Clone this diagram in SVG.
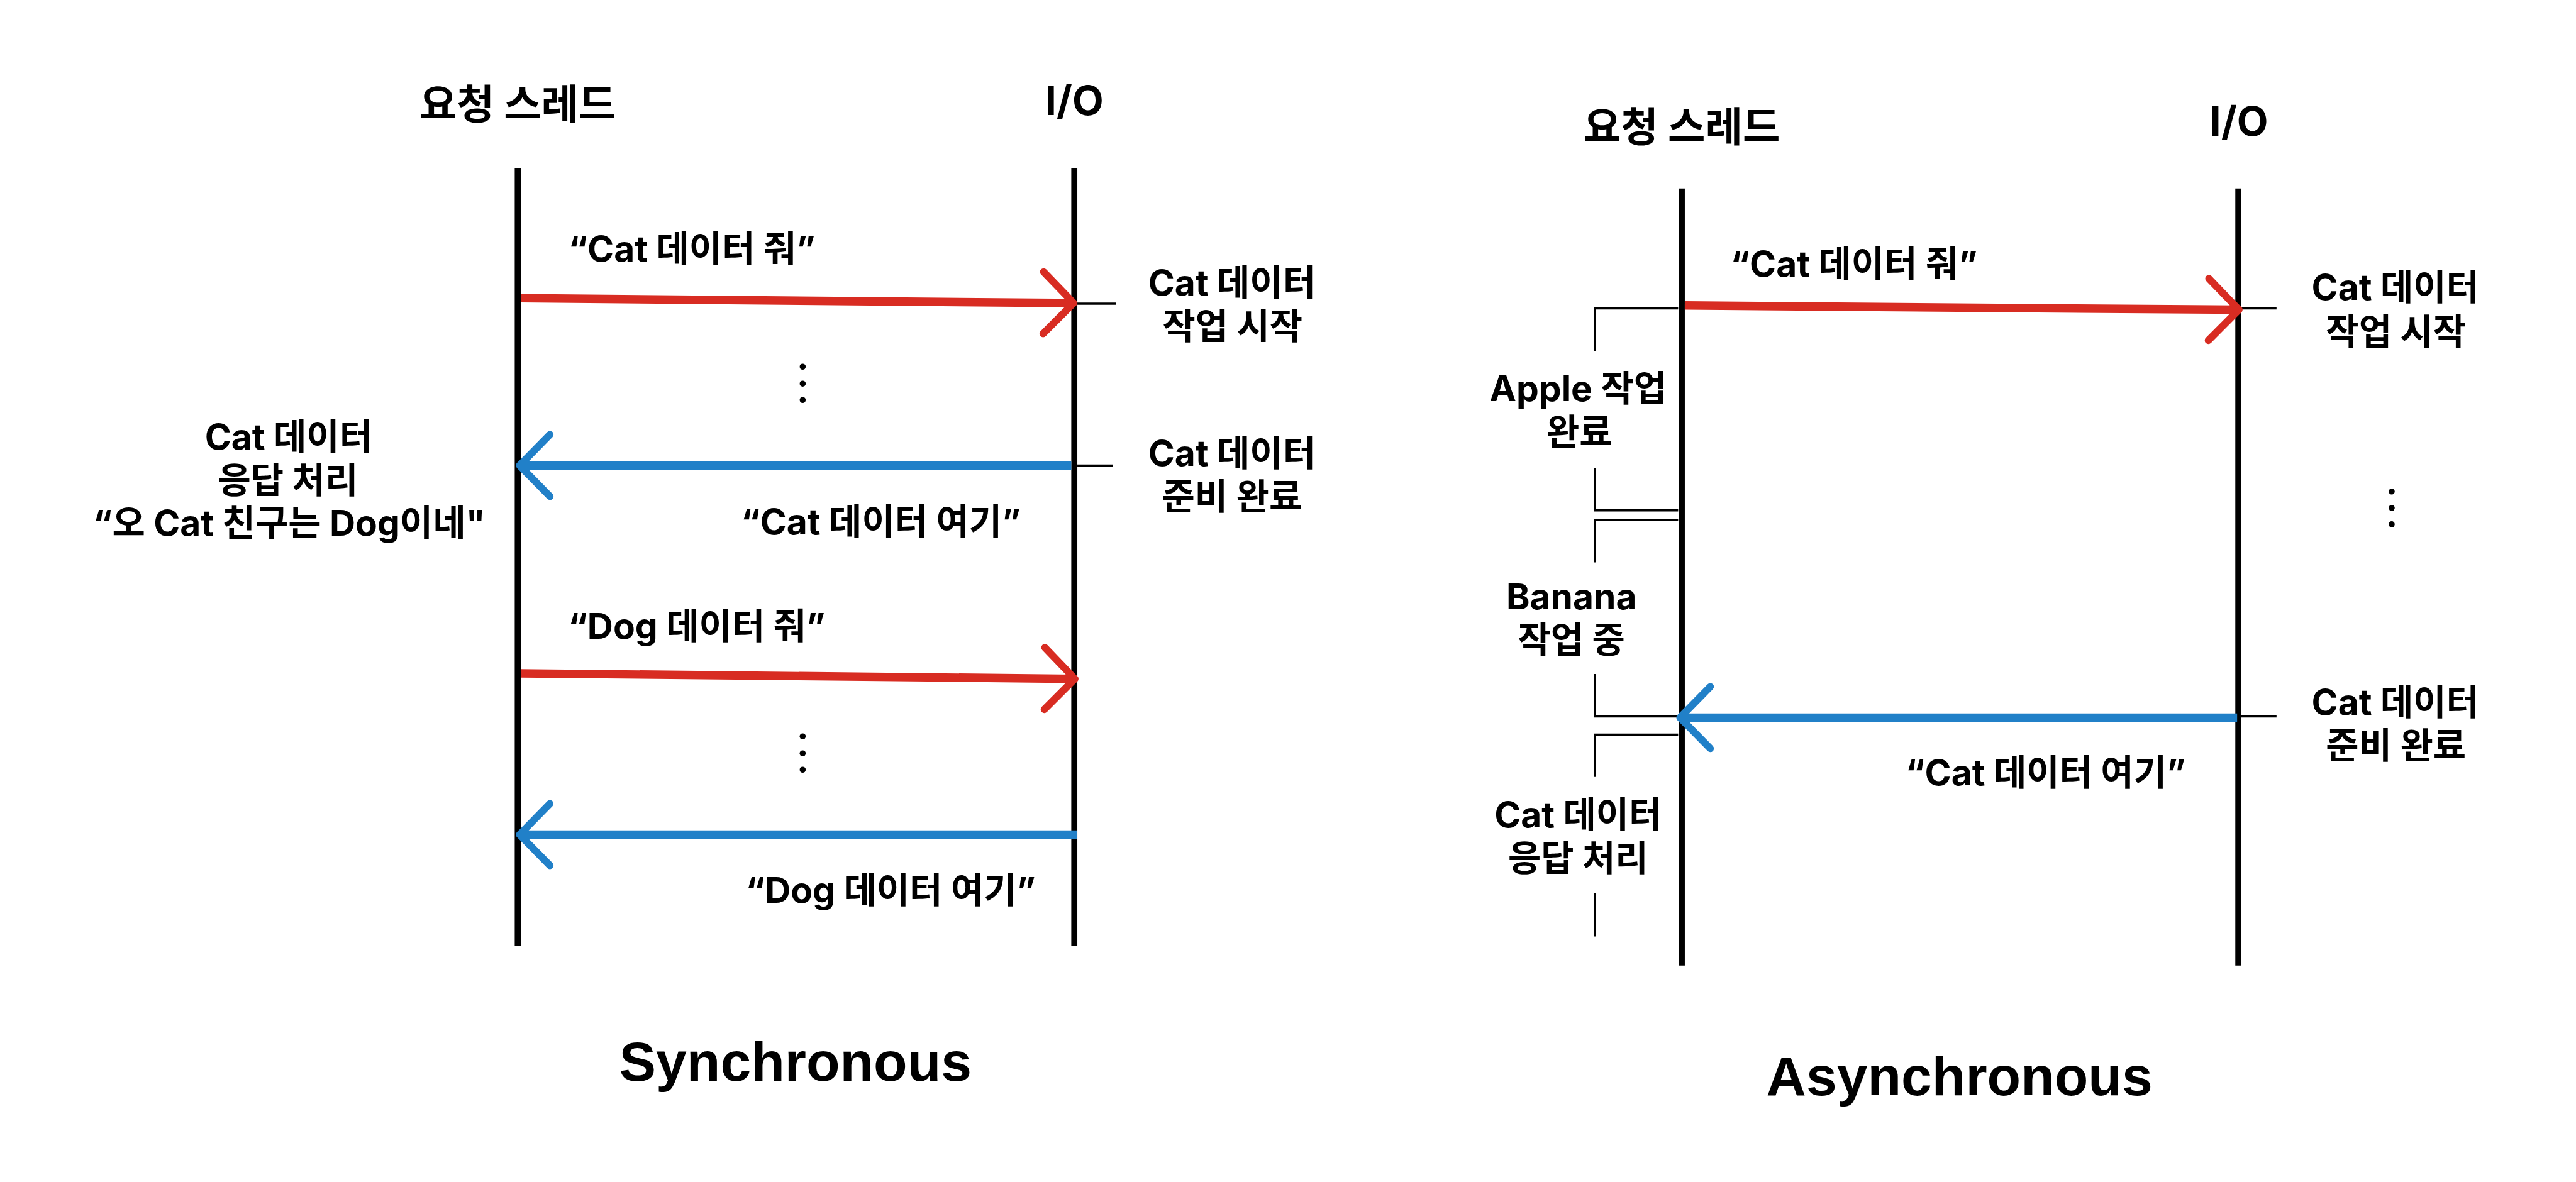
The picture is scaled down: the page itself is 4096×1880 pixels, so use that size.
<svg xmlns="http://www.w3.org/2000/svg" width="4096" height="1880" viewBox="0 0 4096 1880">
<defs>
<style>
.t{font-family:Inter,"Noto Sans CJK KR",sans-serif;font-weight:700;fill:#000;text-anchor:middle}
.lbl{font-size:59px}
.ttl{font-size:67px}
.big{font-family:"Liberation Sans",Arial,sans-serif;font-weight:700;font-size:91px;fill:#000;text-anchor:middle}
.life{stroke:#000;stroke-width:10;fill:none}
.tick{stroke:#000;stroke-width:3.5;fill:none}
.br{stroke:#000;stroke-width:3.5;fill:none}
.red{stroke:#D82C22;stroke-width:14;fill:none}
.blue{stroke:#2180C8;stroke-width:14;fill:none}
.dot{fill:#000}
</style>
<marker id="hr" markerUnits="userSpaceOnUse" viewBox="-60 -60 70 120" refX="0" refY="0" markerWidth="70" markerHeight="120" orient="auto" overflow="visible">
<path d="M-50,-51 L0,0 L-50,51" fill="none" stroke="#D82C22" stroke-width="12" stroke-linecap="round" stroke-linejoin="round"/>
</marker>
<marker id="hb" markerUnits="userSpaceOnUse" viewBox="-60 -60 70 120" refX="0" refY="0" markerWidth="70" markerHeight="120" orient="auto" overflow="visible">
<path d="M-50,-51 L0,0 L-50,51" fill="none" stroke="#2180C8" stroke-width="12" stroke-linecap="round" stroke-linejoin="round"/>
</marker>
</defs>
<rect width="4096" height="1880" fill="#fff"/>
<g transform="scale(0.964)">
<!-- Synchronous -->
<g id="sync-thread">
<text class="t ttl" x="854" y="196">요청 스레드</text>
<line class="life" x1="854" y1="278" x2="854" y2="1561"/>
</g>
<g id="sync-io">
<text class="t ttl" x="1772" y="190">I/O</text>
<line class="life" x1="1772" y1="278" x2="1772" y2="1561"/>
</g>
<g id="sync-io-start">
<line class="tick" x1="1777" y1="501" x2="1841" y2="501"/>
<text class="t lbl" x="2032" y="488">Cat 데이터</text>
<text class="t lbl" x="2033" y="559">작업 시작</text>
</g>
<g id="sync-io-ready">
<line class="tick" x1="1777" y1="768" x2="1836" y2="768"/>
<text class="t lbl" x="2032" y="769">Cat 데이터</text>
<text class="t lbl" x="2032" y="840">준비 완료</text>
</g>
<g id="sync-handle">
<text class="t lbl" x="476" y="742">Cat 데이터</text>
<text class="t lbl" x="475" y="813">응답 처리</text>
<text class="t lbl" x="477" y="884">“오 Cat 친구는 Dog이네"</text>
</g>
<g id="sync-dots1">
<circle class="dot" cx="1324" cy="605" r="5"/><circle class="dot" cx="1324" cy="633" r="5"/><circle class="dot" cx="1324" cy="660" r="5"/>
</g>
<g id="sync-dots2">
<circle class="dot" cx="1324" cy="1215" r="5"/><circle class="dot" cx="1324" cy="1243" r="5"/><circle class="dot" cx="1324" cy="1270" r="5"/>
</g>
<text class="big" x="1312" y="1783">Synchronous</text>

<!-- Asynchronous -->
<g id="async-thread">
<text class="t ttl" x="2774" y="233">요청 스레드</text>
<line class="life" x1="2774" y1="311" x2="2774" y2="1593"/>
</g>
<g id="async-io">
<text class="t ttl" x="3693" y="224">I/O</text>
<line class="life" x1="3692" y1="311" x2="3692" y2="1593"/>
</g>
<g id="async-io-start">
<line class="tick" x1="3697" y1="509" x2="3755" y2="509"/>
<text class="t lbl" x="3951" y="495">Cat 데이터</text>
<text class="t lbl" x="3952" y="568">작업 시작</text>
</g>
<g id="async-dots">
<circle class="dot" cx="3945" cy="811" r="5"/><circle class="dot" cx="3945" cy="838" r="5"/><circle class="dot" cx="3945" cy="865" r="5"/>
</g>
<g id="async-io-ready">
<line class="tick" x1="3697" y1="1182" x2="3755" y2="1182"/>
<text class="t lbl" x="3951" y="1179">Cat 데이터</text>
<text class="t lbl" x="3952" y="1251">준비 완료</text>
</g>
<g id="async-apple">
<path class="br" d="M2768,509 H2631 V580 M2631,772 V842 H2768"/>
<text class="t lbl" x="2603" y="662">Apple 작업</text>
<text class="t lbl" x="2605" y="733">완료</text>
</g>
<g id="async-banana">
<path class="br" d="M2768,858 H2631 V928 M2631,1112 V1182 H2768"/>
<text class="t lbl" x="2592" y="1005">Banana</text>
<text class="t lbl" x="2592" y="1077">작업 중</text>
</g>
<g id="async-handle">
<path class="br" d="M2768,1212 H2631 V1282 M2631,1474 V1545"/>
<text class="t lbl" x="2603" y="1365">Cat 데이터</text>
<text class="t lbl" x="2603" y="1437">응답 처리</text>
</g>
<text class="big" x="3232" y="1807">Asynchronous</text>

<!-- connectors -->
<g id="connectors">
<line class="red" x1="859" y1="492" x2="1771" y2="500" marker-end="url(#hr)"/>
<text class="t lbl" x="1141" y="432">“Cat 데이터 줘”</text>
<line class="blue" x1="1767" y1="768" x2="857" y2="768" marker-end="url(#hb)"/>
<text class="t lbl" x="1453" y="882">“Cat 데이터 여기”</text>
<line class="red" x1="859" y1="1111" x2="1773" y2="1120" marker-end="url(#hr)"/>
<text class="t lbl" x="1149" y="1054">“Dog 데이터 줘”</text>
<line class="blue" x1="1776" y1="1377" x2="857" y2="1377" marker-end="url(#hb)"/>
<text class="t lbl" x="1469" y="1490">“Dog 데이터 여기”</text>
<line class="red" x1="2779" y1="504" x2="3693" y2="511" marker-end="url(#hr)"/>
<text class="t lbl" x="3058" y="456">“Cat 데이터 줘”</text>
<line class="blue" x1="3690" y1="1184" x2="2771" y2="1184" marker-end="url(#hb)"/>
<text class="t lbl" x="3374" y="1296">“Cat 데이터 여기”</text>
</g>
</g>
</svg>
